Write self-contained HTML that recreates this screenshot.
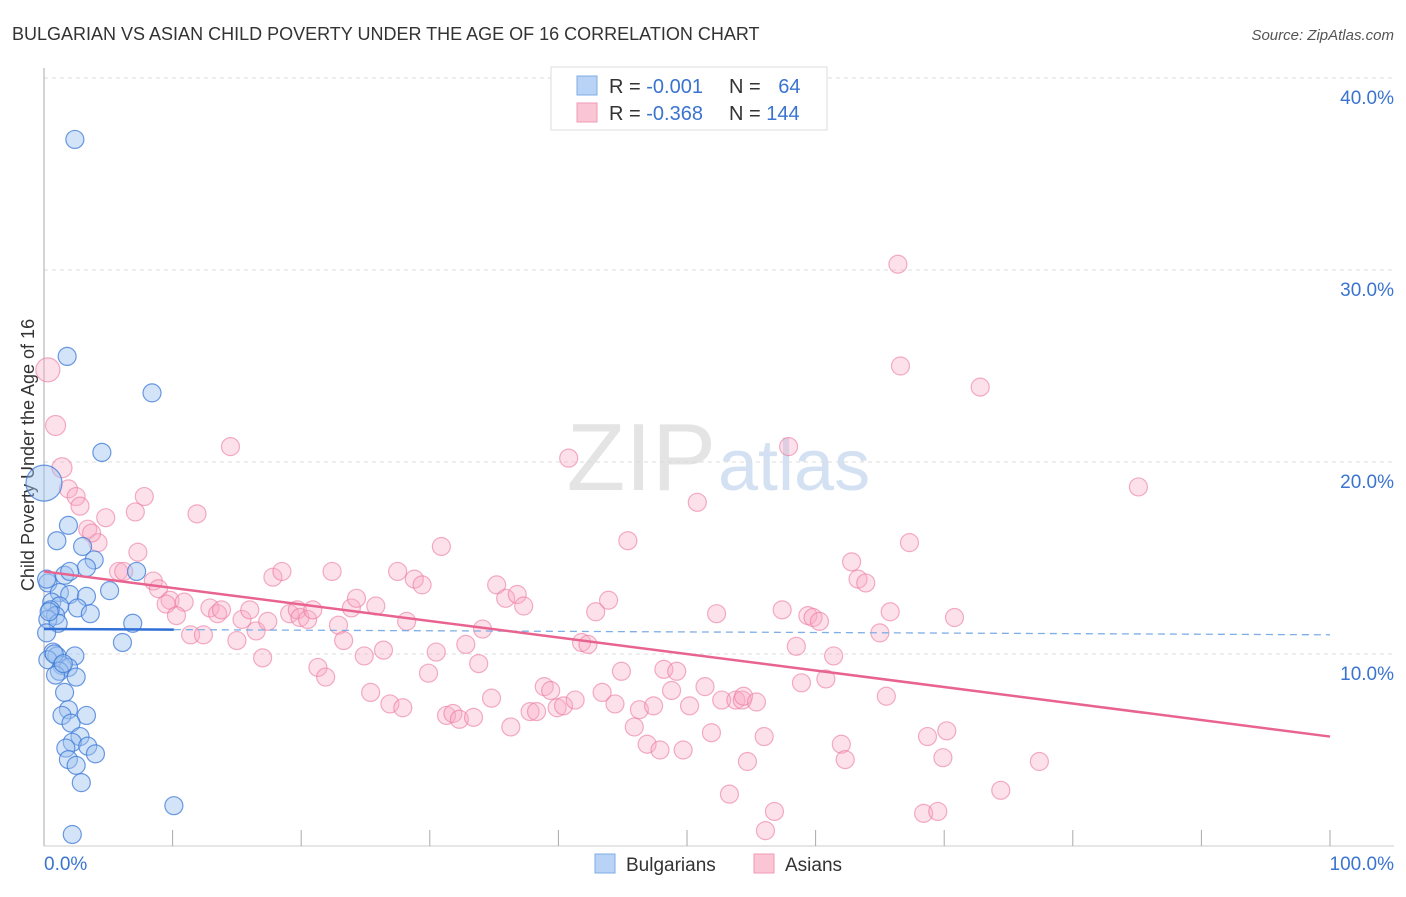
<!DOCTYPE html>
<html><head><meta charset="utf-8"><style>
body{margin:0;background:#fff;font-family:"Liberation Sans",sans-serif;}
svg text{font-family:"Liberation Sans",sans-serif;}
</style></head><body>
<svg id="chart" width="1406" height="892" viewBox="0 0 1406 892">
<text x="12" y="40" font-size="18" fill="#333">BULGARIAN VS ASIAN CHILD POVERTY UNDER THE AGE OF 16 CORRELATION CHART</text>
<text x="1394" y="40" font-size="15" fill="#555" font-style="italic" text-anchor="end">Source: ZipAtlas.com</text>
<text x="716" y="490" font-size="96" fill="#e4e4e4" text-anchor="end" font-family="Liberation Serif">ZIP</text>
<text x="718" y="490" font-size="72" fill="#d3e1f3">atlas</text>
<text transform="translate(34,455) rotate(-90)" font-size="18" fill="#333" text-anchor="middle">Child Poverty Under the Age of 16</text>
<g id="grid"></g><g id="pts"></g><g id="lines"></g>
<g>
<rect x="551" y="67" width="276" height="63" fill="#fff" stroke="#ddd"/>
<rect x="577" y="76" width="20" height="19" fill="#b8d3f5" stroke="#7faee6"/>
<rect x="577" y="103" width="20" height="19" fill="#fac6d5" stroke="#f09ab4"/>
<text x="609" y="93" font-size="20" fill="#333">R = <tspan fill="#3a74d0">-0.001</tspan></text>
<text x="729" y="93" font-size="20" fill="#333">N = <tspan fill="#3a74d0" dx="12">64</tspan></text>
<text x="609" y="120" font-size="20" fill="#333">R = <tspan fill="#3a74d0">-0.368</tspan></text>
<text x="729" y="120" font-size="20" fill="#333">N = <tspan fill="#3a74d0">144</tspan></text>
</g>
<g>
<rect x="595" y="854" width="20" height="19" fill="#b8d3f5" stroke="#7faee6"/>
<text x="626" y="871" font-size="19" fill="#333">Bulgarians</text>
<rect x="754" y="854" width="20" height="19" fill="#fac6d5" stroke="#f09ab4"/>
<text x="785" y="871" font-size="19" fill="#333">Asians</text>
</g>
</svg>
<script>
const yTicks=[10,20,30,40];
const yTickLabels=["10.0%","20.0%","30.0%","40.0%"];
const xTicks=[0,10,20,30,40,50,60,70,80,90,100];
const xEndLabels=["0.0%","100.0%"];
const bulgX=[2.4,1.8,8.4,4.5,1.9,1,3,3.9,3.3,1.6,2,7.2,5.1,0.3,1.2,2,3.3,0.6,1.2,0.5,2.6,3.6,0.9,0.3,1.1,6.9,0.2,6.1,0.7,1,2.4,0.3,1.4,1.9,1.2,0.9,2.5,1.6,1.9,1.4,3.3,2.1,2.8,2.2,3.4,1.7,4,1.9,2.5,2.9,10.1,2.2,0.4,0.8,1.5,0.2];
const bulgY=[36.8,25.5,23.6,20.5,16.7,15.9,15.6,14.9,14.5,14.1,14.3,14.3,13.3,13.7,13.2,13.1,13,12.7,12.5,12.3,12.4,12.1,12,11.8,11.6,11.6,11.1,10.6,10.1,9.9,9.9,9.7,9.4,9.3,9.1,8.9,8.8,8,7.1,6.8,6.8,6.4,5.7,5.4,5.2,5.1,4.8,4.5,4.2,3.3,2.1,0.6,12.2,10,9.5,13.9];
const asianX=[0.3,0.9,1.4,1.9,2.5,2.8,3.4,4.2,4.8,3.7,7.8,7.1,7.3,5.8,6.2,8.5,8.9,9.8,9.5,10.9,10.3,11.4,12.4,11.9,14.5,12.9,13.5,13.8,15,15.4,16,16.5,17,17.4,17.8,18.5,19.1,19.7,19.9,20.5,20.9,21.3,21.9,22.4,22.9,23.3,23.9,24.3,24.9,25.4,25.8,26.4,26.9,27.5,27.9,28.2,28.8,29.4,29.9,30.5,30.9,31.3,31.8,32.3,32.8,33.4,33.8,34.1,34.8,35.2,35.9,36.3,36.8,37.3,37.8,38.3,38.9,39.4,39.9,40.4,40.8,41.3,41.8,42.3,42.9,43.4,43.9,44.4,44.9,45.4,45.9,46.3,46.9,47.4,47.9,48.2,48.8,49.2,49.7,50.2,50.8,51.4,51.9,52.3,52.7,53.3,53.8,54.3,54.7,54.4,55.4,56,56.1,56.8,57.4,57.9,58.5,58.9,59.4,59.8,60.3,60.8,61.4,62,62.3,62.8,63.3,63.9,65,65.5,65.8,66.4,66.6,67.3,68.4,68.7,69.5,69.9,70.2,70.8,72.8,74.4,77.4,85.1];
const asianY=[24.8,21.9,19.7,18.6,18.2,17.7,16.5,15.8,17.1,16.3,18.2,17.4,15.3,14.3,14.3,13.8,13.4,12.8,12.6,12.7,12,11,11,17.3,20.8,12.4,12.1,12.3,10.7,11.8,12.3,11.2,9.8,11.7,14,14.3,12.1,12.3,11.9,11.8,12.3,9.3,8.8,14.3,11.5,10.7,12.4,12.9,9.9,8,12.5,10.2,7.4,14.3,7.2,11.7,13.9,13.6,9,10.1,15.6,6.8,6.9,6.6,10.5,6.7,9.5,11.3,7.7,13.6,12.9,6.2,13.1,12.5,7,7,8.3,8.1,7.2,7.3,20.2,7.6,10.6,10.5,12.2,8,12.8,7.4,9.1,15.9,6.2,7.1,5.3,7.3,5,9.2,8.1,9.1,5,7.3,17.9,8.3,5.9,12.1,7.6,2.7,7.6,7.6,4.4,7.8,7.5,5.7,0.8,1.8,12.3,20.8,10.4,8.5,12,11.9,11.7,8.7,9.9,5.3,4.5,14.8,13.9,13.7,11.1,7.8,12.2,30.3,25,15.8,1.7,5.7,1.8,4.6,6,11.9,23.9,2.9,4.4,18.7];
const bulgTrend=[11.3,11.0];
const asianTrend=[14.3,5.7];
const NS="http://www.w3.org/2000/svg";
const X=v=>44+v*12.86, Y=v=>846-v*19.2;
function el(t,a,p){const e=document.createElementNS(NS,t);for(const k in a)e.setAttribute(k,a[k]);p.appendChild(e);return e;}
const grid=document.getElementById('grid'),pts=document.getElementById('pts'),lines=document.getElementById('lines');
yTicks.forEach((t,i)=>{
 const g=el('line',{x1:44,x2:1394,y1:Y(t),y2:Y(t),stroke:'#ddd','stroke-dasharray':'4,4'},grid);
 
 
 const tx=el('text',{x:1394,y:Y(t)+26,'font-size':19,fill:'#3a74d0','text-anchor':'end'},grid);tx.textContent=yTickLabels[i];
 
 
});
const ax=el('line',{x1:44,x2:44,y1:68,y2:846,stroke:'#aaa'},grid);


const bx=el('line',{x1:44,x2:1394,y1:846,y2:846,stroke:'#ccc'},grid);


xTicks.forEach(t=>{const l=el('line',{x1:X(t),x2:X(t),y1:830,y2:846,stroke:'#aaa'},grid);
 
 });
[[0,'start'],[100,'end']].forEach(([v,a],i)=>{const t=el('text',{x:i?X(v)+64:X(v),y:870,'font-size':19,fill:'#3a74d0','text-anchor':a},grid);t.textContent=xEndLabels[i];
 
 });
asianX.forEach((x,i)=>{const c=el('circle',{cx:X(x),cy:Y(asianY[i]),r:i<3?(i==0?12:10):9,fill:'rgba(248,170,195,0.35)',stroke:'rgba(235,120,160,0.6)','stroke-width':1.2},pts);
 
 });
bulgX.forEach((x,i)=>{const c=el('circle',{cx:X(x),cy:Y(bulgY[i]),r:9,fill:'rgba(160,195,240,0.45)',stroke:'rgba(60,120,215,0.75)','stroke-width':1.2},pts);
 
 });
const big=el('circle',{cx:X(0),cy:Y(18.9),r:18,fill:'rgba(160,195,240,0.45)',stroke:'rgba(60,120,215,0.75)','stroke-width':1.2},pts);


const bt=v=>bulgTrend[0]+(bulgTrend[1]-bulgTrend[0])*v/100;
const l1=el('line',{x1:X(0),y1:Y(bt(0)),x2:X(10.1),y2:Y(bt(10.1)),stroke:'#2f6fd6','stroke-width':2.5},lines);


const l2=el('line',{x1:X(10.1),y1:Y(bt(10.1)),x2:X(100),y2:Y(bt(100)),stroke:'#7faee6','stroke-width':1.3,'stroke-dasharray':'7,5'},lines);


const l3=el('line',{x1:X(0),y1:Y(asianTrend[0]),x2:X(100),y2:Y(asianTrend[1]),stroke:'#e8638f','stroke-width':2.5},lines);


</script>
</body></html>
